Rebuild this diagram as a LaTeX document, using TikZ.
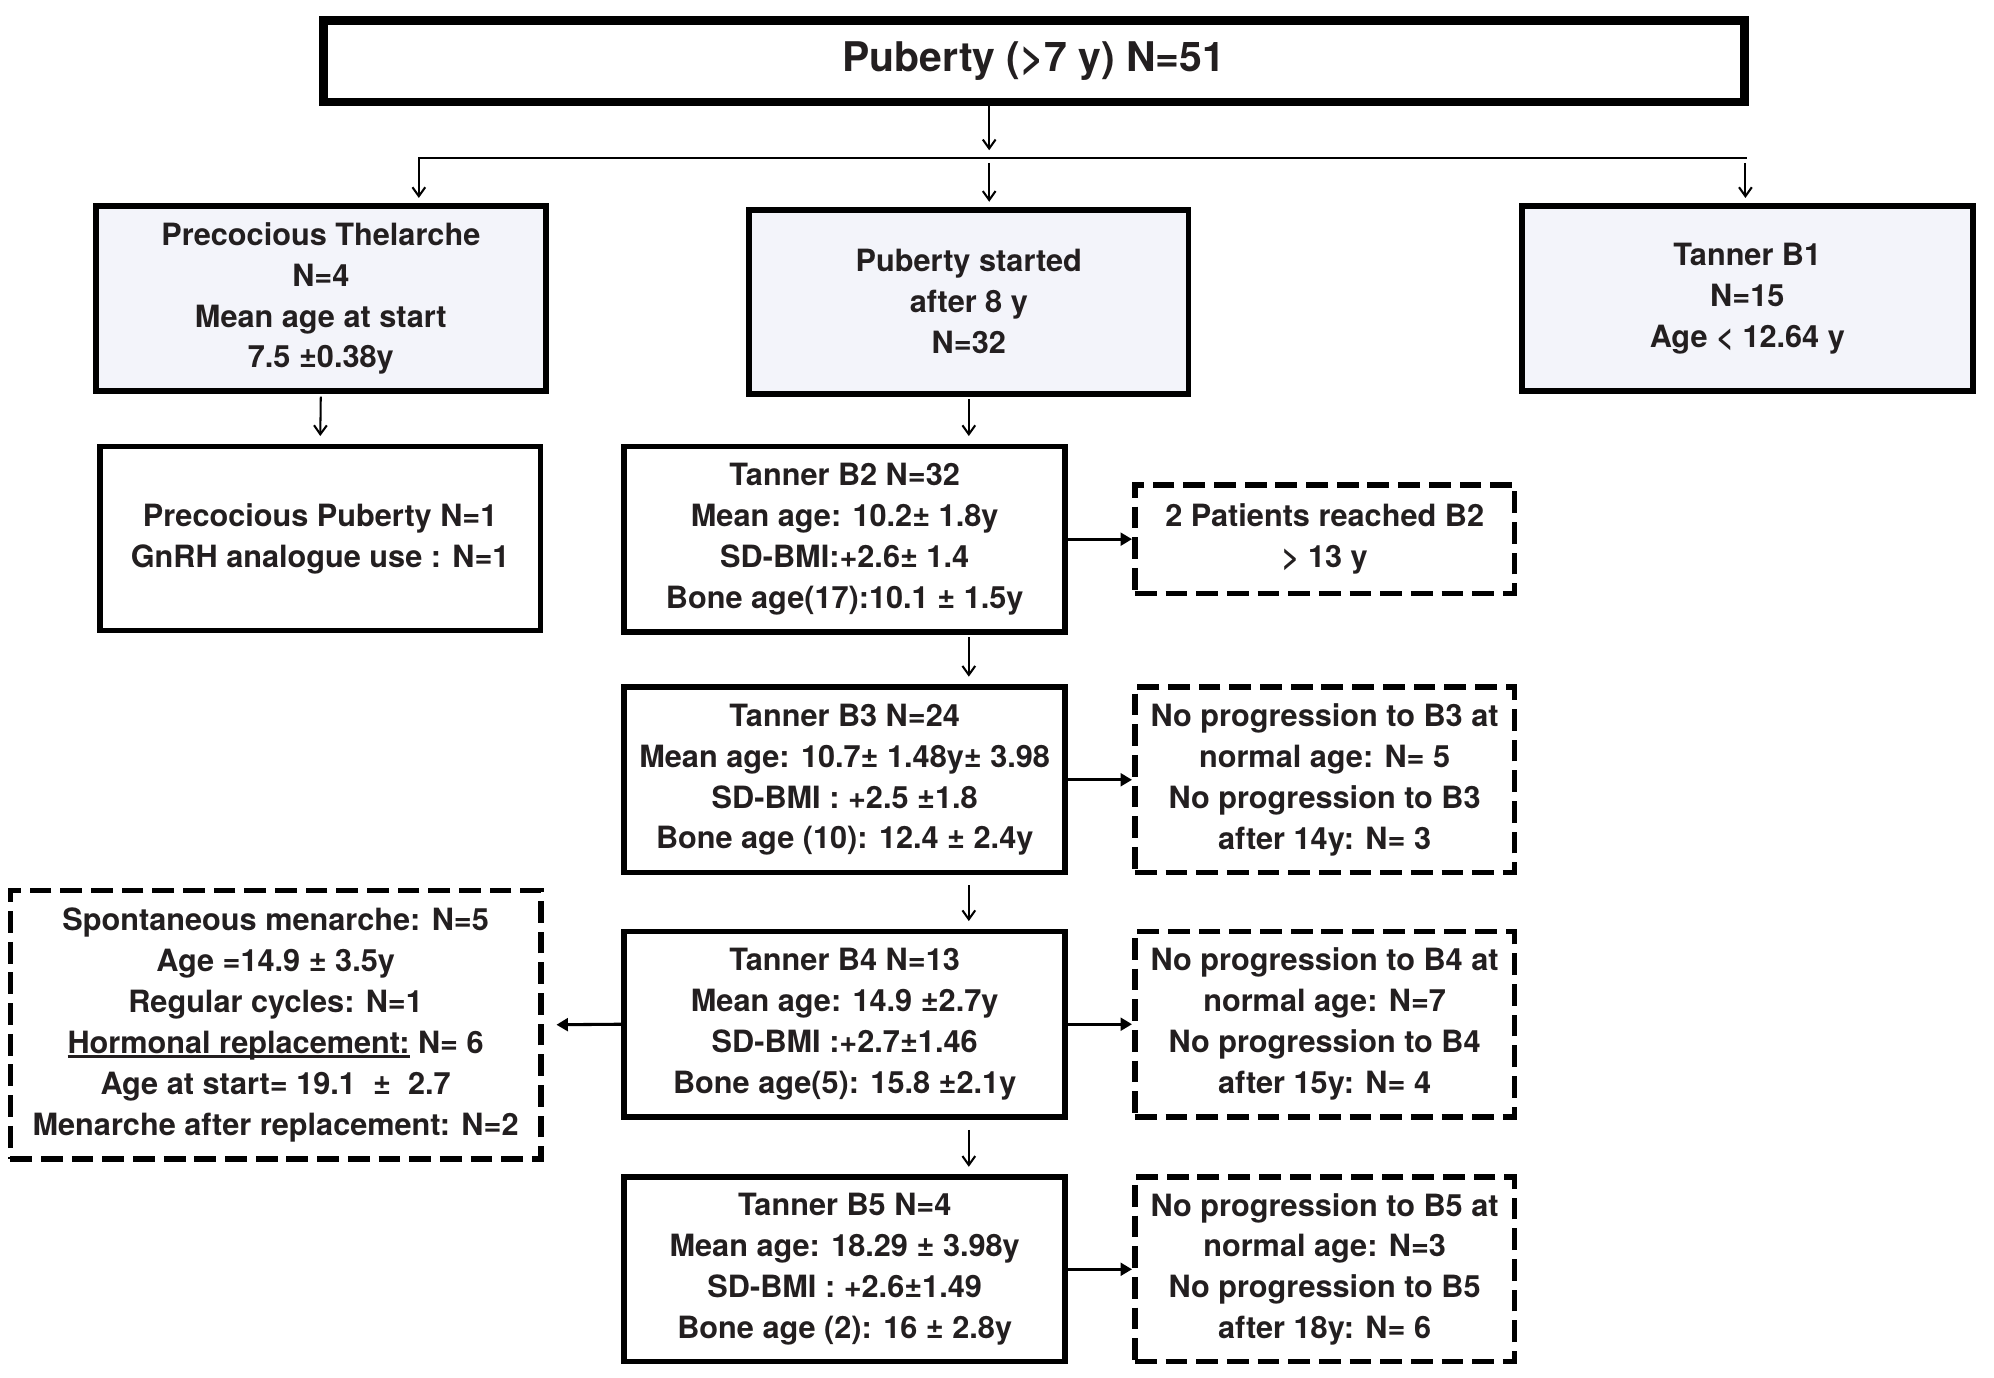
\documentclass[tikz,border=0pt]{standalone}
\usepackage{fontspec}
\setmainfont{TeX Gyre Heros}
\usetikzlibrary{arrows.meta,calc}
\definecolor{txt}{HTML}{231F20}
\definecolor{boxfill}{HTML}{F3F4FA}
\newcommand\myul[1]{\setbox0=\hbox{#1}\rlap{\color{txt}\rule[-1.7pt]{\wd0}{0.9pt}}\box0\relax}
\begin{document}
\begin{tikzpicture}[x=0.5pt,y=-0.5pt,
  every node/.style={font=\bfseries\fontsize{12}{16}\selectfont, text=txt, align=center, inner sep=0pt},
  bx/.style 2 args={rectangle, minimum width=#1, minimum height=#2},
  solidbox/.style={draw=black, line width=2.2pt},
  dashbox/.style={draw=black, line width=2.2pt, dash pattern=on 8.5pt off 3.5pt},
  shaded/.style={fill=boxfill},
  varr/.style={draw=black, line width=0.8pt, -{Straight Barb[length=3.5pt,width=5pt]}},
  harr/.style={draw=black, line width=1.2pt, -{Triangle[length=4.5pt,width=5pt]}}
]
\useasboundingbox (0,0) rectangle (1560,1078);
\begin{scope}[x=0.498pt, y=-0.498pt, shift={(-2,-2)}]

\node[bx={556pt}{32pt}, draw=black, line width=3.5pt, font=\bfseries\fontsize{16}{20}\selectfont] (top) at (814,50) {Puberty (>7 y) N=51};

\node[bx={176pt}{72.5pt}, solidbox, shaded] (pt) at (254,236.5) {Precocious Thelarche\\N=4\\Mean age at start\\7.5 ±0.38y};
\node[bx={172pt}{72pt}, solidbox, shaded] (ps) at (763,239) {Puberty started\\after 8 y\\N=32};
\node[bx={176.5pt}{72.5pt}, solidbox, shaded] (b1) at (1374.5,236.5) {Tanner B1\\N=15\\Age < 12.64 y};

\node[bx={172.5pt}{72pt}, solidbox] (pp) at (253.5,425) {Precocious Puberty N=1\\GnRH analogue use : N=1};
\node[bx={172.5pt}{72.5pt}, solidbox] (b2) at (665.5,425.5) {Tanner B2 N=32\\Mean age: 10.2± 1.8y\\SD-BMI:+2.6± 1.4\\Bone age(17):10.1 ± 1.5y};
\node[bx={148.5pt}{42.5pt}, dashbox] (d2) at (1042.5,425.5) {2 Patients reached B2\\> 13 y};

\node[bx={172.5pt}{72.5pt}, solidbox] (b3) at (665.5,614.5) {Tanner B3 N=24\\Mean age: 10.7± 1.48y± 3.98\\SD-BMI : +2.5 ±1.8\\Bone age (10): 12.4 ± 2.4y};
\node[bx={148.5pt}{72.5pt}, dashbox] (d3) at (1042.5,614.5) {No progression to B3 at\\normal age: N= 5\\No progression to B3\\after 14y: N= 3};

\node[bx={172.5pt}{72.5pt}, solidbox] (b4) at (665.5,806.5) {Tanner B4 N=13\\Mean age: 14.9 ±2.7y\\SD-BMI :+2.7±1.46\\Bone age(5): 15.8 ±2.1y};
\node[bx={148.5pt}{72.5pt}, dashbox] (d4) at (1042.5,806.5) {No progression to B4 at\\normal age: N=7\\No progression to B4\\after 15y: N= 4};
\node[bx={207.5pt}{105pt}, dashbox] (lf) at (218.5,807) {Spontaneous menarche: N=5\\Age =14.9 ± 3.5y\\Regular cycles: N=1\\\myul{Hormonal replacement:} N= 6\\Age at start= 19.1 \ ± \ 2.7\\Menarche after replacement: N=2};

\node[bx={172.5pt}{72pt}, solidbox] (b5) at (665.5,999) {Tanner B5 N=4\\Mean age: 18.29 ± 3.98y\\SD-BMI : +2.6±1.49\\Bone age (2): 16 ± 2.8y};
\node[bx={148.5pt}{72pt}, dashbox] (d5) at (1042.5,999) {No progression to B5 at\\normal age: N=3\\No progression to B5\\after 18y: N= 6};

% junction
\coordinate (jL) at (331,126);
\coordinate (jC) at (779,126);
\coordinate (jR) at (1373,126);
\coordinate (jCa) at (779,120);
\draw[varr] (top.south -| jC) -- (jCa);
\draw[line width=1pt, line cap=rect] (jL) -- (jR);
\draw[varr, shorten >=2pt] (jL) -- (jL |- pt.north);
\draw[varr, shorten >=2pt, shorten <=2pt] (jC) -- (jC |- ps.north);
\draw[varr, shorten >=2pt, shorten <=2pt] (jR) -- (jR |- b1.north);

\draw[varr, shorten >=3pt, shorten <=1pt] (pt.south) -- (pp.north);
\draw[varr, shorten >=3pt, shorten <=1pt] (ps.south) -- (ps.south |- b2.north);
\draw[varr, shorten >=3pt, shorten <=1pt] (b2.south -| ps.south) -- (b3.north -| ps.south);
\draw[varr, shorten >=3pt, shorten <=4pt] (b3.south -| ps.south) -- (b4.north -| ps.south);
\draw[varr, shorten >=3pt, shorten <=4pt] (b4.south -| ps.south) -- (b5.north -| ps.south);

\draw[harr] (b2.east) -- (d2.west);
\draw[harr] (b3.east) -- (d3.west);
\draw[harr] (b4.east) -- (d4.west);
\draw[harr] (b5.east) -- (d5.west);
\draw[harr, shorten >=5pt] (b4.west) -- (lf.east);
\end{scope}
\end{tikzpicture}
\end{document}
